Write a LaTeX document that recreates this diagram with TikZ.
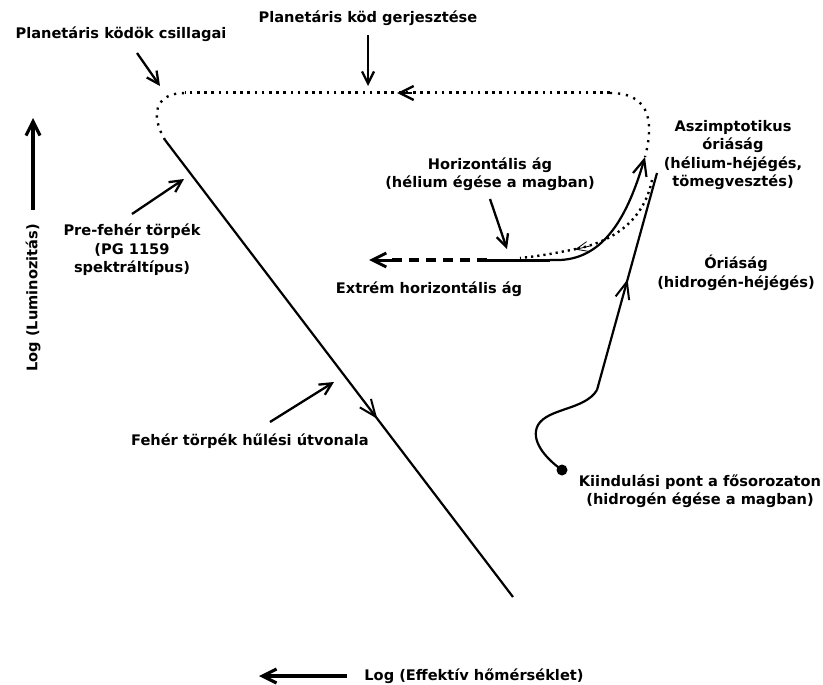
\documentclass[tikz,border=0pt]{standalone}
\usepackage{fontspec}
\setmainfont{DejaVu Sans}
\usetikzlibrary{arrows.meta,decorations.markings}
\begin{document}
\begin{tikzpicture}[x=1pt,y=-1pt,
  lbl/.style={font=\fontsize{14.6}{18.5}\selectfont\bfseries, align=center, inner sep=0pt},
  ln/.style={line width=2.2pt},
  pointer/.style={line width=2.3pt,-{Straight Barb[length=12pt,width=12pt]}},
  axisarrow/.style={line width=3.2pt,-{Straight Barb[length=14pt,width=14pt]}},
  midarrow/.style={postaction={decorate},decoration={markings,mark=at position #1 with {\arrow[line width=2pt]{Straight Barb[length=17pt,width=14pt]}}}},
  bigdots/.style={line width=3pt,dash pattern=on 2.6pt off 4.6pt},
  sparsedots/.style={line width=2.4pt,dash pattern=on 2.2pt off 5.8pt},
  agbdots/.style={line width=2.4pt,dash pattern=on 2.2pt off 4pt}
]
\useasboundingbox (0,0) rectangle (823,685);
\fill[white] (0,0) rectangle (823,685);

% labels
\node[lbl] (t1) at (368,18) {Planetáris köd gerjesztése};
\node[lbl] (t2) at (121,34) {Planetáris ködök csillagai};
\node[lbl] (t3) at (132,250) {Pre-fehér törpék\\(PG 1159\\spektráltípus)};
\node[lbl] (t4) at (250,441) {Fehér törpék hűlési útvonala};
\node[lbl] (t5) at (490,174) {Horizontális ág\\(hélium égése a magban)};
\node[lbl] (t6) at (429,289) {Extrém horizontális ág};
\node[lbl] (t7) at (733,155) {Aszimptotikus\\óriáság\\(hélium-héjégés,\\tömegvesztés)};
\node[lbl] (t8) at (736,273) {Óriáság\\(hidrogén-héjégés)};
\node[lbl] (t9) at (700,491) {Kiindulási pont a fősorozaton\\(hidrogén égése a magban)};
\node[lbl,rotate=90] (t10) at (33,298) {Log (Luminozitás)};
\node[lbl] (t11) at (474,676) {Log (Effektív hőmérséklet)};

% coordinates
\coordinate (pnsA) at (137,53);
\coordinate (pnsB) at (160,86);
\coordinate (excA) at (368,35);
\coordinate (excB) at (368,86);
\coordinate (lumA) at (33,210);
\coordinate (lumB) at (33,118);
\coordinate (tempA) at (347,676);
\coordinate (tempB) at (259,676);
\coordinate (preA) at (132,214);
\coordinate (preB) at (184,179);
\coordinate (wdA) at (270,422);
\coordinate (wdB) at (334,382);
\coordinate (hbA) at (490,199);
\coordinate (hbB) at (507,249);

\coordinate (wdtop) at (165,140);
\coordinate (wdend) at (513,597);
\coordinate (topL) at (185,93);
\coordinate (topR) at (610,93);
\coordinate (agbtop) at (645,157);
\coordinate (hbstart) at (487,260);
\coordinate (ehbend) at (369,260);
\coordinate (rgtop) at (657,173);
\coordinate (ms) at (562,470);

% pointers
\draw[pointer] (pnsA) -- (pnsB);
\draw[pointer] (excA) -- (excB);
\draw[pointer] (preA) -- (preB);
\draw[pointer] (wdA) -- (wdB);
\draw[pointer] (hbA) -- (hbB);

% axes
\draw[axisarrow] (lumA) -- (lumB);
\draw[axisarrow] (tempA) -- (tempB);

% white dwarf cooling track
\draw[ln,midarrow=0.61] (wdtop) -- (wdend);

% planetary nebula loop
\draw[sparsedots] (wdtop) .. controls (150,115) and (155,93) .. (topL);
\draw[bigdots] (topR) -- (topL);
\draw[line width=2.4pt,-{Straight Barb[length=14pt,width=14pt]}] (412,93) -- (397,93);
\draw[sparsedots] (topR) .. controls (645,93) and (656,115) .. (agbtop);

% horizontal branch
\draw[line width=3pt] (hbstart) -- (550,260);
\draw[ln,-{Straight Barb[length=16pt,width=14pt]}] (550,260) -- (560,260) .. controls (605,258) and (628,215) .. (agbtop);
\draw[line width=3.2pt,dash pattern=on 10pt off 7pt] (hbstart) -- (392,260);
\draw[line width=3pt,-{Straight Barb[length=14pt,width=14pt]}] (392,260) -- (ehbend);

% AGB dotted return
\draw[agbdots] (652,180) .. controls (645,215) and (620,240) .. (576,249);
\draw[line width=0.8pt,-{Straight Barb[length=12pt,width=10pt]}] (590,246) -- (575,249.5);
\draw[agbdots] (576,249) .. controls (556,253) and (540,256) .. (520,258);

% red giant branch
\draw[ln] (ms) .. controls (545,458) and (530,440) .. (538,425) .. controls (548,408) and (585,410) .. (597,390);
\draw[ln,midarrow=0.51] (597,390) -- (rgtop);
\fill (ms) circle (5.5);
\end{tikzpicture}
\end{document}
